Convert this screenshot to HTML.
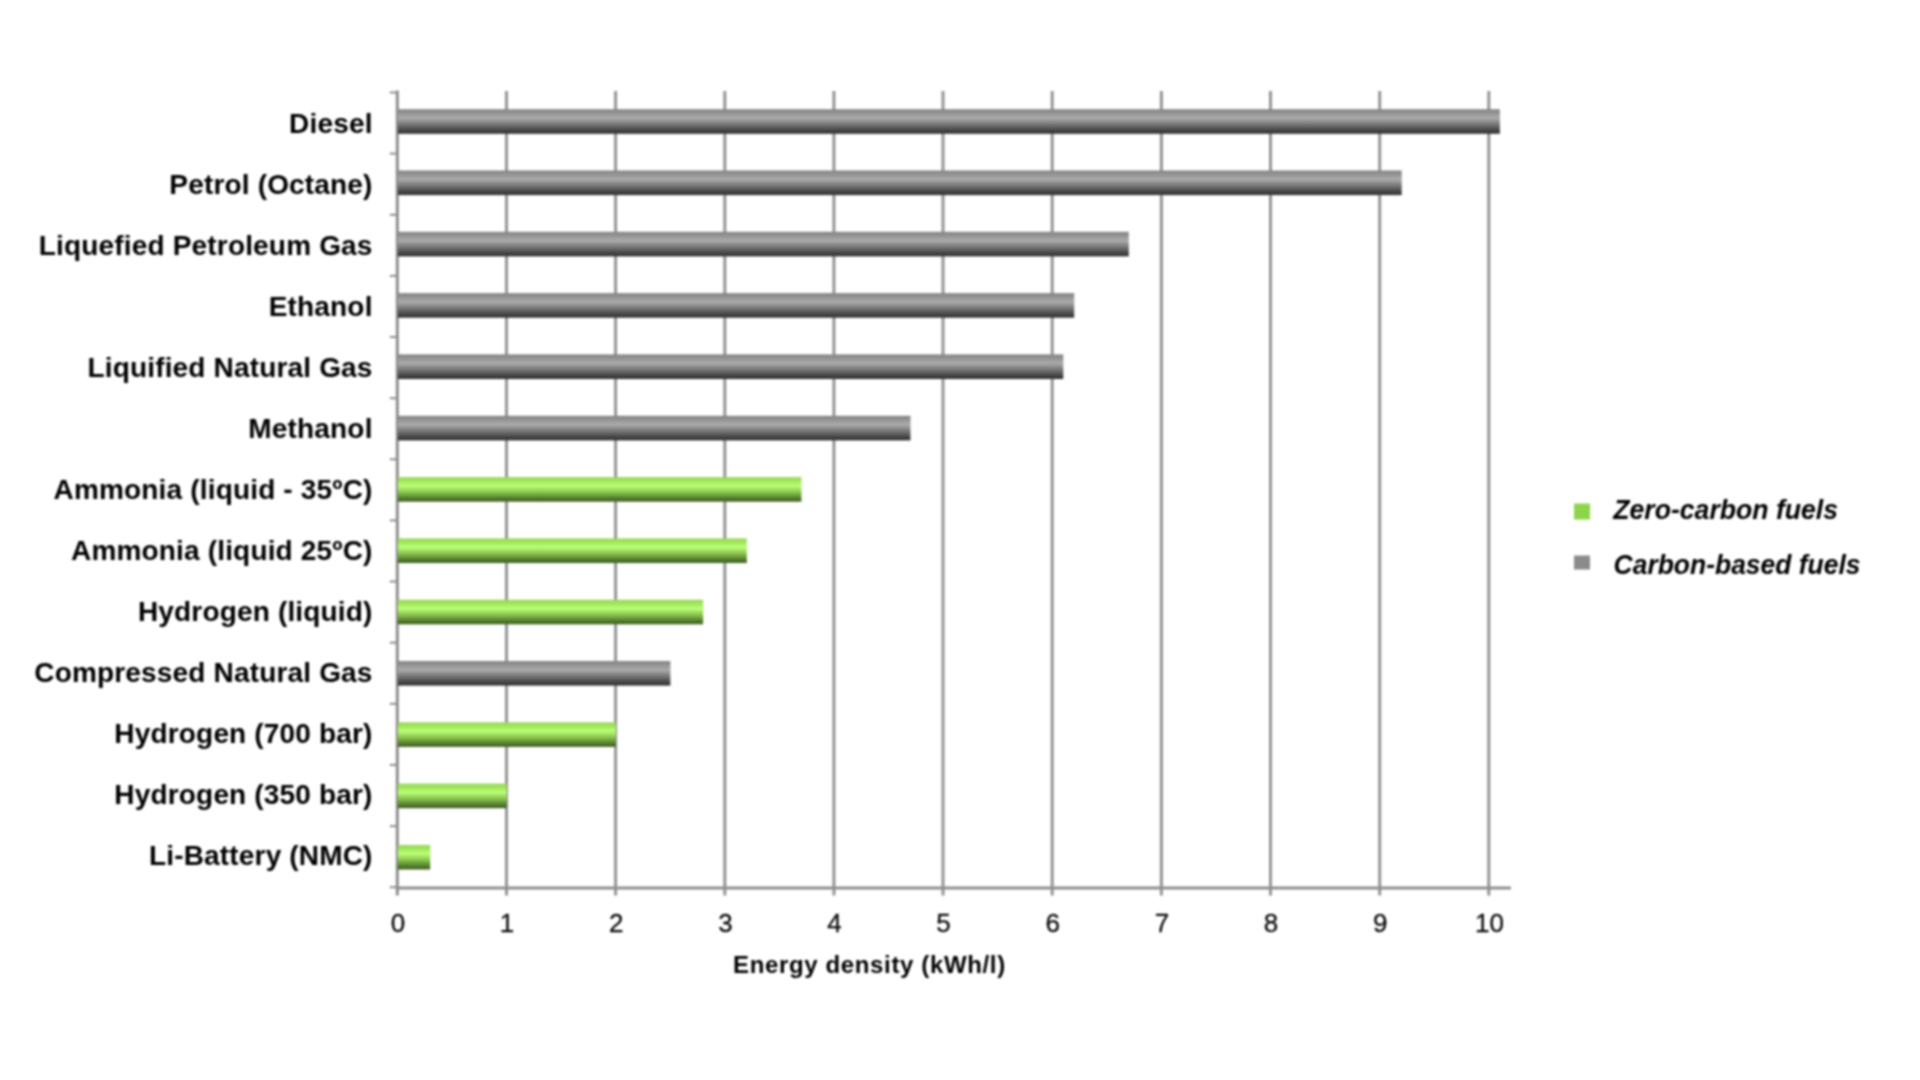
<!DOCTYPE html>
<html lang="en"><head><meta charset="utf-8"><title>Energy density of fuels</title>
<style>
html,body{margin:0;padding:0;background:#fff;}
body{width:1920px;height:1080px;overflow:hidden;position:relative;font-family:"Liberation Sans",sans-serif;}
svg{position:absolute;left:0;top:0;display:block}
.cat{font-family:"Liberation Sans",sans-serif;font-weight:bold;font-size:28px;fill:#000;text-anchor:end;letter-spacing:0.17px}
.num{font-family:"Liberation Sans",sans-serif;font-size:26px;fill:#0a0a0a;stroke:#0a0a0a;stroke-width:0.3px;text-anchor:middle}
.ttl{font-family:"Liberation Sans",sans-serif;font-weight:bold;font-size:24px;fill:#000;letter-spacing:0.64px}
.leg{font-family:"Liberation Sans",sans-serif;font-weight:bold;font-style:italic;font-size:27.7px;fill:#000}
</style></head><body>
<svg width="1920" height="1080" viewBox="0 0 1920 1080">
<defs>
<linearGradient id="gc" x1="0" y1="0" x2="0" y2="1">
<stop offset="0" stop-color="#858585"/><stop offset="0.12" stop-color="#8f8f8f"/><stop offset="0.36" stop-color="#ababab"/>
<stop offset="0.6" stop-color="#7a7a7a"/><stop offset="0.85" stop-color="#484848"/><stop offset="1" stop-color="#2f2f2f"/>
</linearGradient>
<linearGradient id="gz" x1="0" y1="0" x2="0" y2="1">
<stop offset="0" stop-color="#9bd65a"/><stop offset="0.15" stop-color="#a0e658"/><stop offset="0.36" stop-color="#baff78"/>
<stop offset="0.6" stop-color="#8cc850"/><stop offset="0.84" stop-color="#58842f"/><stop offset="0.93" stop-color="#486829"/><stop offset="1" stop-color="#466428"/>
</linearGradient>
<filter id="soft" x="0" y="0" width="1920" height="1080" filterUnits="userSpaceOnUse" color-interpolation-filters="sRGB"><feGaussianBlur stdDeviation="0.8"/></filter>
</defs>
<rect width="1920" height="1080" fill="#fff"/>
<g id="chart" filter="url(#soft)">

<g stroke="#949494" stroke-width="3">
<line x1="506.5" y1="91" x2="506.5" y2="895.4"/>
<line x1="615.6" y1="91" x2="615.6" y2="895.4"/>
<line x1="724.8" y1="91" x2="724.8" y2="895.4"/>
<line x1="833.9" y1="91" x2="833.9" y2="895.4"/>
<line x1="943.0" y1="91" x2="943.0" y2="895.4"/>
<line x1="1052.2" y1="91" x2="1052.2" y2="895.4"/>
<line x1="1161.4" y1="91" x2="1161.4" y2="895.4"/>
<line x1="1270.5" y1="91" x2="1270.5" y2="895.4"/>
<line x1="1379.7" y1="91" x2="1379.7" y2="895.4"/>
<line x1="1488.8" y1="91" x2="1488.8" y2="895.4"/>
</g>
<line x1="397.3" y1="90.5" x2="397.3" y2="895.4" stroke="#8e8e8e" stroke-width="3"/>
<rect x="397.8" y="109.2" width="1102.1" height="24.6" fill="url(#gc)"/>
<rect x="397.8" y="170.5" width="1003.9" height="24.6" fill="url(#gc)"/>
<rect x="397.8" y="231.8" width="731.0" height="24.6" fill="url(#gc)"/>
<rect x="397.8" y="293.1" width="676.4" height="24.6" fill="url(#gc)"/>
<rect x="397.8" y="354.4" width="665.5" height="24.6" fill="url(#gc)"/>
<rect x="397.8" y="415.8" width="512.7" height="24.6" fill="url(#gc)"/>
<rect x="397.8" y="477.1" width="403.6" height="24.6" fill="url(#gz)"/>
<rect x="397.8" y="538.4" width="349.0" height="24.6" fill="url(#gz)"/>
<rect x="397.8" y="599.7" width="305.3" height="24.6" fill="url(#gz)"/>
<rect x="397.8" y="661.0" width="272.6" height="24.6" fill="url(#gc)"/>
<rect x="397.8" y="722.3" width="218.0" height="24.6" fill="url(#gz)"/>
<rect x="397.8" y="783.6" width="108.9" height="24.6" fill="url(#gz)"/>
<rect x="397.8" y="844.9" width="32.4" height="24.6" fill="url(#gz)"/>
<g stroke="#8e8e8e" stroke-width="3">
<line x1="395.8" y1="888" x2="1511" y2="888"/>
</g><g stroke="#8e8e8e" stroke-width="2">
<line x1="389.8" y1="92.5" x2="397.3" y2="92.5"/>
<line x1="389.8" y1="153.6" x2="397.3" y2="153.6"/>
<line x1="389.8" y1="214.8" x2="397.3" y2="214.8"/>
<line x1="389.8" y1="275.9" x2="397.3" y2="275.9"/>
<line x1="389.8" y1="337.0" x2="397.3" y2="337.0"/>
<line x1="389.8" y1="398.2" x2="397.3" y2="398.2"/>
<line x1="389.8" y1="459.3" x2="397.3" y2="459.3"/>
<line x1="389.8" y1="520.4" x2="397.3" y2="520.4"/>
<line x1="389.8" y1="581.5" x2="397.3" y2="581.5"/>
<line x1="389.8" y1="642.7" x2="397.3" y2="642.7"/>
<line x1="389.8" y1="703.8" x2="397.3" y2="703.8"/>
<line x1="389.8" y1="764.9" x2="397.3" y2="764.9"/>
<line x1="389.8" y1="826.1" x2="397.3" y2="826.1"/>
<line x1="389.8" y1="887.2" x2="397.3" y2="887.2"/>
</g>
<text class="cat" x="372.6" y="132.8">Diesel</text>
<text class="cat" x="372.6" y="193.8">Petrol (Octane)</text>
<text class="cat" x="372.6" y="254.9">Liquefied Petroleum Gas</text>
<text class="cat" x="372.6" y="315.9">Ethanol</text>
<text class="cat" x="372.6" y="376.9">Liquified Natural Gas</text>
<text class="cat" x="372.6" y="437.9">Methanol</text>
<text class="cat" x="372.6" y="499.0">Ammonia (liquid - 35ºC)</text>
<text class="cat" x="372.6" y="560.0">Ammonia (liquid 25ºC)</text>
<text class="cat" x="372.6" y="621.0">Hydrogen (liquid)</text>
<text class="cat" x="372.6" y="682.1">Compressed Natural Gas</text>
<text class="cat" x="372.6" y="743.1">Hydrogen (700 bar)</text>
<text class="cat" x="372.6" y="804.1">Hydrogen (350 bar)</text>
<text class="cat" x="372.6" y="865.2">Li-Battery (NMC)</text>
<text class="num" x="397.9" y="931.5">0</text>
<text class="num" x="507.1" y="931.5">1</text>
<text class="num" x="616.2" y="931.5">2</text>
<text class="num" x="725.4" y="931.5">3</text>
<text class="num" x="834.5" y="931.5">4</text>
<text class="num" x="943.6" y="931.5">5</text>
<text class="num" x="1052.8" y="931.5">6</text>
<text class="num" x="1162.0" y="931.5">7</text>
<text class="num" x="1271.1" y="931.5">8</text>
<text class="num" x="1380.2" y="931.5">9</text>
<text class="num" x="1489.4" y="931.5">10</text>
<text class="ttl" x="733" y="973.2">Energy density (kWh/l)</text>
<rect x="1574" y="503.5" width="16" height="16" fill="#8dd44b"/>
<rect x="1574" y="555.5" width="16" height="14" fill="#8b8b8b"/>
<text class="leg" transform="translate(1613.2,519) scale(0.962,1)">Zero-carbon fuels</text>
<text class="leg" transform="translate(1613.6,574.4) scale(0.955,1)">Carbon-based fuels</text>
</g></svg></body></html>
